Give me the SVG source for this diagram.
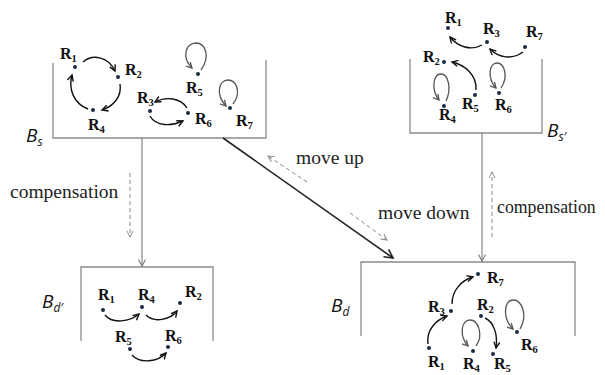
<svg xmlns="http://www.w3.org/2000/svg" width="605" height="375" viewBox="0 0 605 375">
<style>
.box{fill:none;stroke:#8a8a8a;stroke-width:1.3}
.conn{fill:none;stroke:#7a7a7a;stroke-width:1.1}
.diag{fill:none;stroke:#222;stroke-width:1.6}
.dash{fill:none;stroke:#8a8a8a;stroke-width:1;stroke-dasharray:4,3}
.arc{fill:none;stroke:#111;stroke-width:1.4}
.loop{fill:none;stroke:#555;stroke-width:1.3}
.dot{fill:#1b2a45}
.r{font-family:"Liberation Serif","Times New Roman",serif;font-weight:bold;font-size:16px;fill:#111}
.sub{font-size:10.5px}
.lbl{font-family:"Liberation Serif","Times New Roman",serif;font-size:19.5px;fill:#222}
.b{font-family:"Open Sans","Liberation Sans",sans-serif;font-style:italic;font-size:19px;fill:#111}
.bs{font-size:12px}
</style>
<defs>
<marker id="ha" markerUnits="userSpaceOnUse" markerWidth="10" markerHeight="10" refX="6.5" refY="3.5" orient="auto"><path d="M0.5,0.5 L6.5,3.5 L0.5,6.5" fill="none" stroke="#111" stroke-width="1.4"/></marker>
<marker id="hl" markerUnits="userSpaceOnUse" markerWidth="10" markerHeight="10" refX="6" refY="3.5" orient="auto"><path d="M0.5,0.5 L6,3.5 L0.5,6.5" fill="none" stroke="#555" stroke-width="1.3"/></marker>
<marker id="hc" markerUnits="userSpaceOnUse" markerWidth="10" markerHeight="10" refX="7" refY="4" orient="auto"><path d="M0.5,0.5 L7,4 L0.5,7.5" fill="none" stroke="#7a7a7a" stroke-width="1.1"/></marker>
<marker id="hd" markerUnits="userSpaceOnUse" markerWidth="12" markerHeight="12" refX="9" refY="5" orient="auto"><path d="M0.5,0.5 L9,5 L0.5,9.5" fill="none" stroke="#222" stroke-width="1.6"/></marker>
<marker id="hg" markerUnits="userSpaceOnUse" markerWidth="10" markerHeight="10" refX="6.5" refY="3.5" orient="auto"><path d="M0.5,0.5 L6.5,3.5 L0.5,6.5" fill="none" stroke="#8a8a8a" stroke-width="1"/></marker>
</defs>

<g id="Bs">
<path class="box" d="M53,63 V138 H266 V60"/>
<text class="b" x="26" y="142">B<tspan class="bs" dy="4">s</tspan></text>
<g id="Bs-nodes">
<circle class="dot" cx="75" cy="67" r="2"/><text class="r" x="60" y="59">R<tspan class="sub" dy="3">1</tspan></text>
<circle class="dot" cx="118" cy="77" r="2"/><text class="r" x="125" y="75">R<tspan class="sub" dy="3">2</tspan></text>
<circle class="dot" cx="150" cy="111" r="2"/><text class="r" x="137" y="103">R<tspan class="sub" dy="3">3</tspan></text>
<circle class="dot" cx="93" cy="110" r="2"/><text class="r" x="88" y="130">R<tspan class="sub" dy="3">4</tspan></text>
<circle class="dot" cx="198" cy="74" r="2"/><text class="r" x="186" y="93">R<tspan class="sub" dy="3">5</tspan></text>
<circle class="dot" cx="188" cy="113" r="2"/><text class="r" x="195" y="124">R<tspan class="sub" dy="3">6</tspan></text>
<circle class="dot" cx="230" cy="108" r="2"/><text class="r" x="236" y="126">R<tspan class="sub" dy="3">7</tspan></text>
<path class="arc" marker-end="url(#ha)" d="M83,62 C92,54 108,56 115,71"/>
<path class="arc" marker-end="url(#ha)" d="M120,84 C122,96 114,106 102,110"/>
<path class="arc" marker-end="url(#ha)" d="M88,109 C74,104 68,89 72,75"/>
<path class="arc" marker-end="url(#ha)" d="M187,108 C181,98 166,96 155,102"/>
<path class="arc" marker-end="url(#ha)" d="M150,116 C156,127 172,126 183,121"/>
<path class="loop" marker-end="url(#hl)" d="M201,70 C211,56 205,43 196,43 C186,43 181,57 192,68"/>
<path class="loop" marker-end="url(#hl)" d="M233,104 C242,92 236,80 228,80 C219,80 215,94 226,106"/>
</g>
</g>

<g id="Bs2">
<path class="box" d="M410,59 V133 H542 V59"/>
<text class="b" x="547" y="137">B<tspan class="bs" dy="4">s′</tspan></text>
<g id="Bs2-nodes">
<circle class="dot" cx="448" cy="28" r="2"/><text class="r" x="445" y="23">R<tspan class="sub" dy="3">1</tspan></text>
<circle class="dot" cx="444" cy="62" r="2"/><text class="r" x="423" y="62">R<tspan class="sub" dy="3">2</tspan></text>
<circle class="dot" cx="487" cy="42" r="2"/><text class="r" x="483" y="34">R<tspan class="sub" dy="3">3</tspan></text>
<circle class="dot" cx="444" cy="106" r="2"/><text class="r" x="439" y="120">R<tspan class="sub" dy="3">4</tspan></text>
<circle class="dot" cx="475" cy="95" r="2"/><text class="r" x="462" y="109">R<tspan class="sub" dy="3">5</tspan></text>
<circle class="dot" cx="499" cy="93" r="2"/><text class="r" x="495" y="110">R<tspan class="sub" dy="3">6</tspan></text>
<circle class="dot" cx="525" cy="47" r="2"/><text class="r" x="526" y="37">R<tspan class="sub" dy="3">7</tspan></text>
<path class="arc" marker-end="url(#ha)" d="M482,45 C471,51 458,47 450,37"/>
<path class="arc" marker-end="url(#ha)" d="M523,52 C512,60 499,58 490,49"/>
<path class="arc" marker-end="url(#ha)" d="M476,90 C477,75 465,65 452,62"/>
<path class="loop" marker-end="url(#hl)" d="M446,101 C452,88 448,74 441,74 C433,74 431,90 439,100"/>
<path class="loop" marker-end="url(#hl)" d="M501,88 C509,76 504,63 497,63 C489,63 487,78 496,88"/>
</g>
</g>

<g id="Bd1">
<path class="box" d="M81,341 V267 H213 V341"/>
<text class="b" x="42" y="308">B<tspan class="bs" dy="4">d′</tspan></text>
<g id="Bd1-nodes">
<circle class="dot" cx="103" cy="310" r="2"/><text class="r" x="98" y="300">R<tspan class="sub" dy="3">1</tspan></text>
<circle class="dot" cx="180" cy="303" r="2"/><text class="r" x="185" y="297">R<tspan class="sub" dy="3">2</tspan></text>
<circle class="dot" cx="142" cy="307" r="2"/><text class="r" x="138" y="300">R<tspan class="sub" dy="3">4</tspan></text>
<circle class="dot" cx="130" cy="349" r="2"/><text class="r" x="115" y="342">R<tspan class="sub" dy="3">5</tspan></text>
<circle class="dot" cx="168" cy="347" r="2"/><text class="r" x="165" y="341">R<tspan class="sub" dy="3">6</tspan></text>
<path class="arc" marker-end="url(#ha)" d="M105,315 C112,324 130,322 139,314"/>
<path class="arc" marker-end="url(#ha)" d="M146,315 C154,323 170,320 177,311"/>
<path class="arc" marker-end="url(#ha)" d="M132,355 C140,364 158,362 166,353"/>
</g>
</g>

<g id="Bd">
<path class="box" d="M361,336 V262 H575 V336"/>
<text class="b" x="331" y="312">B<tspan class="bs" dy="4">d</tspan></text>
<g id="Bd-nodes">
<circle class="dot" cx="429" cy="348" r="2"/><text class="r" x="428" y="367">R<tspan class="sub" dy="3">1</tspan></text>
<circle class="dot" cx="481" cy="316" r="2"/><text class="r" x="477" y="310">R<tspan class="sub" dy="3">2</tspan></text>
<circle class="dot" cx="451" cy="311" r="2"/><text class="r" x="428" y="312">R<tspan class="sub" dy="3">3</tspan></text>
<circle class="dot" cx="473" cy="351" r="2"/><text class="r" x="463" y="369">R<tspan class="sub" dy="3">4</tspan></text>
<circle class="dot" cx="493" cy="354" r="2"/><text class="r" x="494" y="369">R<tspan class="sub" dy="3">5</tspan></text>
<circle class="dot" cx="517" cy="332" r="2"/><text class="r" x="521" y="350">R<tspan class="sub" dy="3">6</tspan></text>
<circle class="dot" cx="478" cy="274" r="2"/><text class="r" x="487" y="283">R<tspan class="sub" dy="3">7</tspan></text>
<path class="arc" marker-end="url(#ha)" d="M428,344 C426,330 436,320 447,316"/>
<path class="arc" marker-end="url(#ha)" d="M452,304 C452,290 462,280 473,277"/>
<path class="arc" marker-end="url(#ha)" d="M485,318 C494,322 498,335 496,348"/>
<path class="loop" marker-end="url(#hl)" d="M476,346 C484,335 478,320 470,320 C461,320 459,336 468,346"/>
<path class="loop" marker-end="url(#hl)" d="M520,329 C528,315 522,300 513,300 C504,300 502,318 513,329"/>
</g>
</g>

<g id="connectors">
<path class="conn" marker-end="url(#hc)" d="M142,138 V266"/>
<path class="conn" marker-end="url(#hc)" d="M482,133 V261"/>
<path class="diag" marker-end="url(#hd)" d="M223,138 L393,258"/>
<path class="dash" marker-end="url(#hg)" d="M130,173 V237"/>
<path class="dash" marker-end="url(#hg)" d="M492,237 V172"/>
<path class="dash" marker-end="url(#hg)" d="M307,182 L268,156"/>
<path class="dash" marker-end="url(#hg)" d="M350,213 L387,240"/>
<text class="lbl" x="10" y="198">compensation</text>
<text class="lbl" x="497" y="213" style="font-size:17.8px">compensation</text>
<text class="lbl" x="296" y="164">move up</text>
<text class="lbl" x="378" y="219">move down</text>
</g>
</svg>
